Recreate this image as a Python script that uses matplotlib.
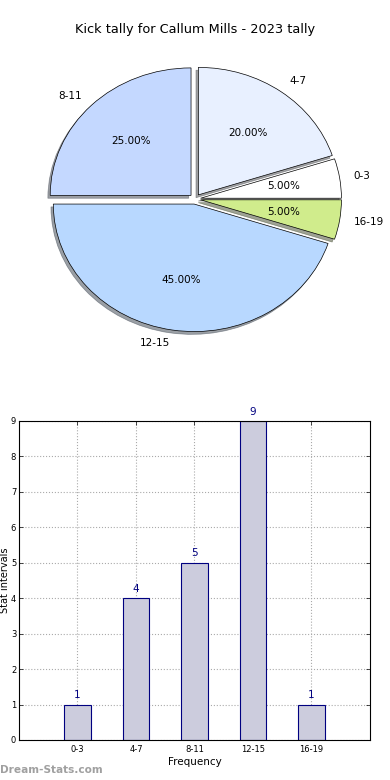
import matplotlib
matplotlib.use("Agg")
import matplotlib.pyplot as plt

categories = ["0-3", "4-7", "8-11", "12-15", "16-19"]
counts = [1, 4, 5, 9, 1]
pie_colors = ["#ffffff", "#e8f0ff", "#c4d8ff", "#b8d8ff", "#d0ec8c"]
title = "Kick tally for Callum Mills - 2023 tally"

plt.rcParams['font.family'] = ['DejaVu Sans']
fig = plt.figure(figsize=(3.9, 7.8), dpi=100)
fig.patch.set_facecolor("white")

# Pie
axp = fig.add_axes([0.0667, 0.5487, 0.8667, 0.3923])
wedges, texts, autotexts = axp.pie(
    counts, labels=categories, colors=pie_colors, explode=[0.04] * len(counts),
    autopct="%.2f%%", startangle=0,
    shadow=dict(ox=-0.012, oy=-0.016, shade=0.7),
    labeldistance=1.1, pctdistance=0.6,
    wedgeprops=dict(edgecolor="black", linewidth=0.5),
    textprops=dict(fontsize=7.5))
axp.set_aspect("auto")
axp.set_xlim(-1.2, 1.2)
axp.set_ylim(-1.2, 1.2)
axp.axis("off")
fig.text(0.5, 0.962, title, ha="center", va="center", fontsize=9.3)

# Bars
axb = fig.add_axes([0.0487, 0.0513, 0.9, 0.409])
x = list(range(len(categories)))
axb.bar(x, counts, width=0.45, color="#ccccdd", edgecolor="#000080", linewidth=0.8, zorder=2)
for xi, c in zip(x, counts):
    axb.text(xi, c + 0.12, str(c), ha="center", va="bottom", color="#000080", fontsize=7.5)
axb.set_xlim(-1, 5)
axb.set_ylim(0, 9)
axb.set_xticks(x)
axb.set_xticklabels(categories)
axb.set_yticks(range(0, 10))
axb.tick_params(direction="in", labelsize=6, top=True, right=True, length=3, width=0.5)
axb.tick_params(axis="y", pad=2)
axb.grid(True, linestyle=":", color="#aaaaaa", linewidth=0.8, zorder=0)
axb.set_axisbelow(True)
axb.set_xlabel("Frequency", fontsize=7.5, labelpad=2)
axb.set_ylabel("Stat intervals", fontsize=7, va="center")
axb.yaxis.set_label_coords(-0.04, 0.5)
for s in axb.spines.values():
    s.set_linewidth(0.8)

fig.text(0.0, 0.0128, "Dream-Stats.com", fontsize=7.6, color="#a0a0a0", ha="left", va="center", fontweight="semibold")

fig.savefig("out.png", dpi=100)
